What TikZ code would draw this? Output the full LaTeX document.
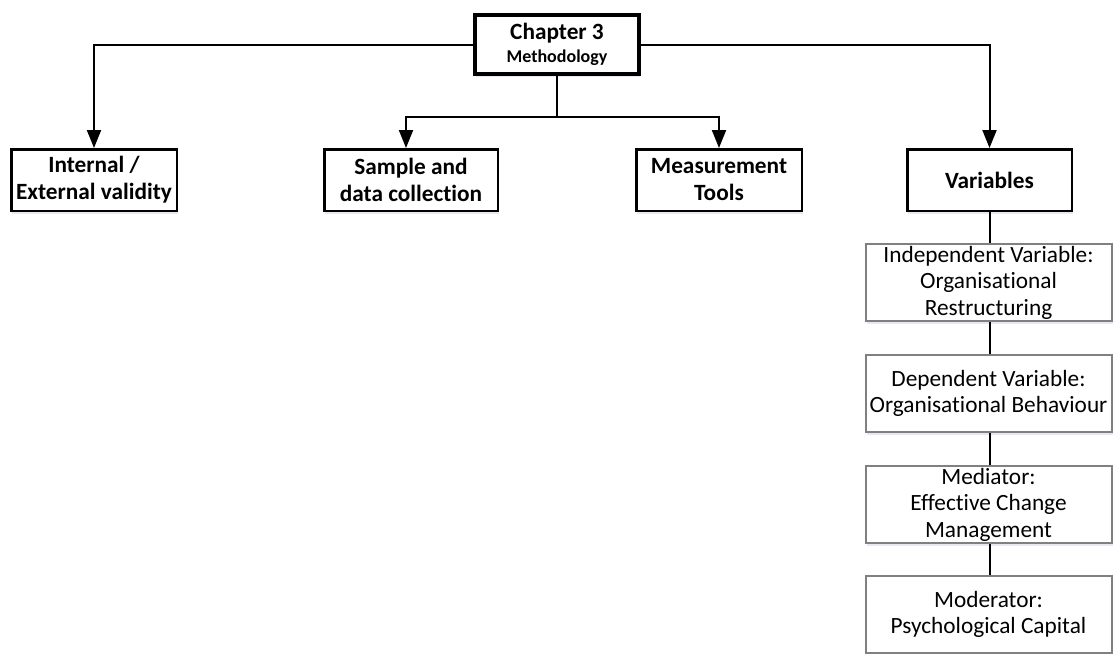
\documentclass[tikz,border=0pt]{standalone}
\usepackage{fontspec}
\setmainfont{Carlito}[Ligatures=NoCommon]
\usetikzlibrary{arrows.meta,shadows}
\begin{document}
\begin{tikzpicture}[x=1pt,y=-1pt,
  every node/.style={align=center, inner sep=0pt, font=\fontsize{23.3}{27}\selectfont},
  softshadow/.style={drop shadow={shadow xshift=1pt, shadow yshift=-3pt, fill=blue!30!gray!40, opacity=0.35}},
  headbox/.style={draw, line width=4pt, fill=white, softshadow,
    minimum width=164pt, minimum height=59pt, font=\bfseries\fontsize{23.3}{23}\selectfont},
  topicbox/.style={draw, line width=2.5pt, fill=white, softshadow,
    minimum width=165.5pt, minimum height=61.5pt, font=\bfseries\fontsize{23.3}{27}\selectfont},
  varbox/.style={draw=black!50, line width=2pt, fill=white, softshadow,
    minimum width=246pt, minimum height=77pt, font=\fontsize{23.3}{26.5}\selectfont},
  link/.style={line width=2pt},
  arrowlink/.style={link, -{Triangle[width=14pt,length=18pt]}},
]
\useasboundingbox (0,0) rectangle (1113,653);
\clip (0,0) rectangle (1113,653);

% chapter heading
\node[headbox] (chap) at (557,44.5) {Chapter 3\\{\fontsize{18}{18}\selectfont Methodology}};

% second level topics
\node[topicbox] (valid) at (94,180) {Internal /\\External validity};
\node[topicbox, minimum width=173.5pt] (sample) at (411,180) {Sample and\\data collection};
\node[topicbox] (tools) at (719,180) {Measurement\\Tools};
\node[topicbox, minimum width=164.5pt] (vars) at (989.5,180) {Variables};

% variable chain
\node[varbox] (iv)  at (988.5,282.5) {Independent Variable:\\Organisational\\Restructuring};
\node[varbox] (dv)  at (988.5,393.5) {Dependent Variable:\\Organisational Behaviour};
\node[varbox] (med) at (988.5,504.5) {Mediator:\\Effective Change\\Management};
\node[varbox] (mod) at (988.5,614.5) {Moderator:\\Psychological Capital};

% connectors from the heading
\coordinate (fork) at (557,117);
\draw[arrowlink] (chap.west) -| (valid.north);
\draw[arrowlink] (chap.east) -| (vars.north);
\draw[link] (chap.south) -- (fork);
\draw[arrowlink] (fork) -| ([xshift=-5pt]sample.north);
\draw[arrowlink] (fork) -| (tools.north);

% connectors along the variable chain
\draw[link] (vars.south) -- (vars.south |- iv.north);
\draw[link] (iv.south -| vars.south) -- (dv.north -| vars.south);
\draw[link] (dv.south -| vars.south) -- (med.north -| vars.south);
\draw[link] (med.south -| vars.south) -- (mod.north -| vars.south);
\end{tikzpicture}
\end{document}
